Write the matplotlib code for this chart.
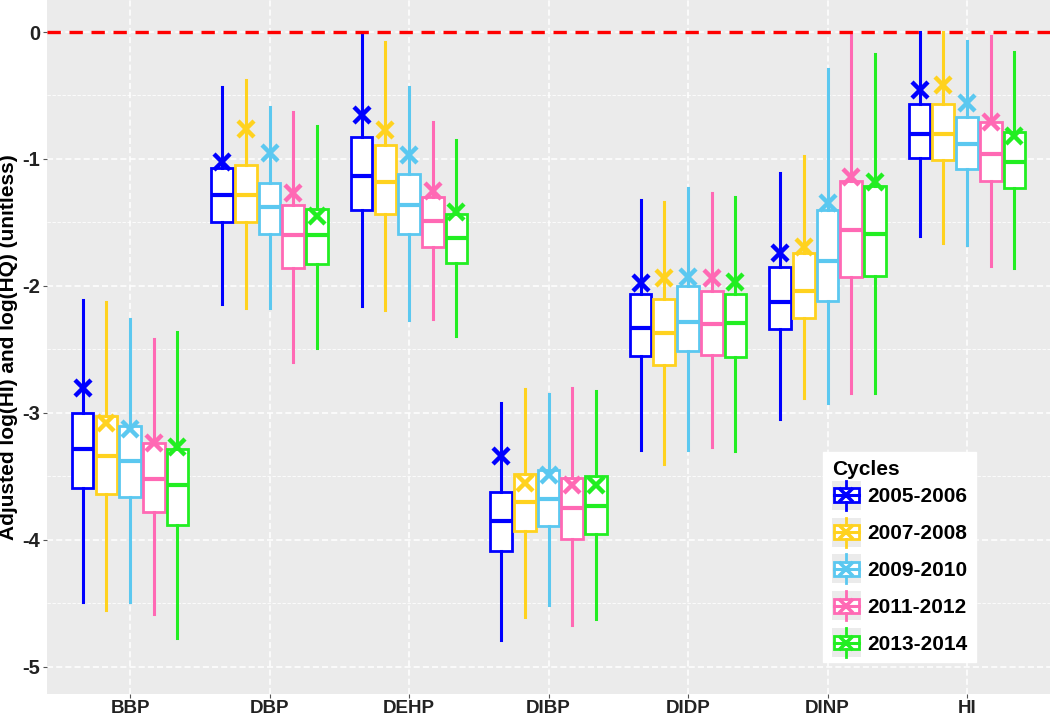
import numpy as np
import matplotlib
matplotlib.use("Agg")
import matplotlib.pyplot as plt
from matplotlib.patches import Rectangle
from matplotlib.lines import Line2D
from matplotlib.legend_handler import HandlerBase

plt.rcParams['font.family'] = ['Liberation Sans', 'DejaVu Sans']
plt.rcParams['axes.unicode_minus'] = False

chemicals = ["BBP", "DBP", "DEHP", "DIBP", "DIDP", "DINP", "HI"]
cycles = ["2005-2006", "2007-2008", "2009-2010", "2011-2012", "2013-2014"]
colors = ["#0000FF", "#FFD21F", "#5BC8F0", "#FF69B4", "#22EE22"]

# one row per cycle, one column per chemical
whis_hi = [
    [-2.11, -0.43, -0.01, -2.92, -1.32, -1.11, 0.00],
    [-2.13, -0.38, -0.08, -2.81, -1.34, -0.98, 0.00],
    [-2.26, -0.59, -0.43, -2.85, -1.23, -0.29, -0.07],
    [-2.42, -0.63, -0.71, -2.80, -1.27, 0.00, -0.03],
    [-2.36, -0.74, -0.85, -2.83, -1.30, -0.17, -0.16],
]
q3 = [
    [-3.00, -1.07, -0.83, -3.62, -2.06, -1.85, -0.57],
    [-3.02, -1.05, -0.89, -3.48, -2.10, -1.74, -0.57],
    [-3.10, -1.19, -1.12, -3.45, -2.00, -1.40, -0.67],
    [-3.24, -1.36, -1.30, -3.51, -2.04, -1.17, -0.71],
    [-3.28, -1.39, -1.43, -3.50, -2.06, -1.21, -0.79],
]
med = [
    [-3.28, -1.28, -1.13, -3.85, -2.33, -2.13, -0.80],
    [-3.34, -1.28, -1.18, -3.70, -2.37, -2.04, -0.80],
    [-3.38, -1.38, -1.36, -3.68, -2.28, -1.80, -0.88],
    [-3.52, -1.60, -1.49, -3.75, -2.30, -1.56, -0.96],
    [-3.57, -1.60, -1.62, -3.73, -2.29, -1.59, -1.02],
]
q1 = [
    [-3.59, -1.50, -1.40, -4.09, -2.55, -2.34, -0.99],
    [-3.64, -1.50, -1.43, -3.93, -2.62, -2.25, -1.01],
    [-3.66, -1.59, -1.59, -3.89, -2.51, -2.12, -1.08],
    [-3.78, -1.86, -1.69, -3.99, -2.54, -1.93, -1.17],
    [-3.88, -1.83, -1.82, -3.95, -2.56, -1.92, -1.23],
]
whis_lo = [
    [-4.49, -2.14, -2.16, -4.79, -3.29, -3.05, -1.61],
    [-4.55, -2.17, -2.19, -4.61, -3.40, -2.88, -1.66],
    [-4.49, -2.17, -2.27, -4.51, -3.29, -2.92, -1.68],
    [-4.58, -2.60, -2.26, -4.67, -3.27, -2.84, -1.84],
    [-4.77, -2.49, -2.39, -4.62, -3.30, -2.84, -1.86],
]
xmark = [
    [-2.80, -1.02, -0.65, -3.34, -1.98, -1.74, -0.46],
    [-3.08, -0.76, -0.77, -3.55, -1.94, -1.69, -0.42],
    [-3.13, -0.95, -0.97, -3.49, -1.93, -1.35, -0.56],
    [-3.24, -1.27, -1.25, -3.57, -1.94, -1.14, -0.71],
    [-3.27, -1.45, -1.42, -3.57, -1.97, -1.18, -0.82],
]

fig = plt.figure(figsize=(10.5, 7.19), dpi=100)
ax = fig.add_axes([0.0448, 25 / 719, 0.9552, 694 / 719])
ax.set_facecolor("#EBEBEB")

dodge = 0.17
bw = 0.155
x = np.arange(1, len(chemicals) + 1)

for j, cyc in enumerate(cycles):
    pos = x + (j - 2) * dodge
    stats = []
    for i in range(len(chemicals)):
        stats.append(dict(med=med[j][i], q1=q1[j][i], q3=q3[j][i],
                          whislo=whis_lo[j][i], whishi=whis_hi[j][i], fliers=[]))
    c = colors[j]
    ax.bxp(stats, positions=pos, widths=bw, showcaps=False, showfliers=False,
           patch_artist=True, manage_ticks=False,
           boxprops=dict(facecolor="white", edgecolor=c, linewidth=2.0),
           whiskerprops=dict(color=c, linewidth=2.2),
           medianprops=dict(color=c, linewidth=3.0),
           zorder=3)
    ax.plot(pos, xmark[j], linestyle="none", marker="x", color=c,
            markersize=11, markeredgewidth=3.2, zorder=5)

ax.axhline(0, color="#FF0000", linestyle=(0, (4, 2.6)), linewidth=2.4, zorder=4)

ax.set_xlim(0.405, 7.595)
ax.set_ylim(-5.213, 0.252)
ax.set_xticks(x)
ax.set_xticklabels(chemicals)
ax.set_yticks([0, -1, -2, -3, -4, -5])
ax.set_yticks([-0.5, -1.5, -2.5, -3.5, -4.5], minor=True)
ax.tick_params(axis="both", which="major", length=3, color="#555555",
               labelsize=14.5, labelcolor="#222222", pad=2)
ax.tick_params(axis="x", which="major", labelsize=13.5, pad=1)
ax.tick_params(axis="y", which="minor", length=0)
for lab in ax.get_xticklabels() + ax.get_yticklabels():
    lab.set_fontweight("bold")
ax.grid(which="major", color="white", linestyle=(0, (4, 2)), linewidth=1.1, zorder=0)
ax.grid(which="minor", axis="y", color="white", linestyle=(0, (4, 2)), linewidth=0.6, zorder=0)
ax.set_axisbelow(True)
for s in ax.spines.values():
    s.set_visible(False)
ax.set_ylabel("Adjusted log(HI) and log(HQ) (unitless)", fontsize=15,
              fontweight="bold", color="black", labelpad=3)


class BoxKey(HandlerBase):
    def create_artists(self, legend, orig_handle, xdescent, ydescent,
                       width, height, fontsize, trans):
        c = orig_handle.get_color()
        x0, y0 = -xdescent, -ydescent
        bg = Rectangle((x0, y0 - 4), width, height + 8, facecolor="#EBEBEB",
                       edgecolor="none", transform=trans)
        cx = x0 + width / 2
        bx = Rectangle((x0 + 1.5, y0 + 1.5), width - 3, height - 3, facecolor="white",
                       edgecolor=c, linewidth=2.0, transform=trans)
        wt = Line2D([cx, cx], [y0 + height - 1.5, y0 + height + 4], color=c,
                    linewidth=2, transform=trans)
        wb = Line2D([cx, cx], [y0 - 4, y0 + 1.5], color=c, linewidth=2, transform=trans)
        md = Line2D([x0 + 1.5, x0 + width - 1.5], [y0 + height / 2] * 2, color=c,
                    linewidth=2.2, transform=trans)
        mk = Line2D([cx], [y0 + height / 2], marker="x", color=c, markersize=10,
                    markeredgewidth=2.6, linestyle="none", transform=trans)
        return [bg, bx, wt, wb, md, mk]


handles = [Line2D([], [], color=c) for c in colors]
leg = ax.legend(handles, cycles, title="Cycles", loc="upper left",
                bbox_to_anchor=(0.774, 1 - 452 / 694), frameon=True, fancybox=False,
                handler_map={Line2D: BoxKey()}, handlelength=1.4, handleheight=0.95,
                handletextpad=0.3, labelspacing=0.8, borderpad=0.4,
                borderaxespad=0,
                prop=dict(size=15, weight="bold"),
                title_fontproperties=dict(size=15, weight="bold"))
leg._legend_box.sep = 5
leg.get_frame().set_facecolor("white")
leg.get_frame().set_edgecolor("white")
leg.get_frame().set_alpha(1)
leg._legend_box.align = "left"
leg.set_zorder(10)

fig.savefig("out.png", dpi=100)
